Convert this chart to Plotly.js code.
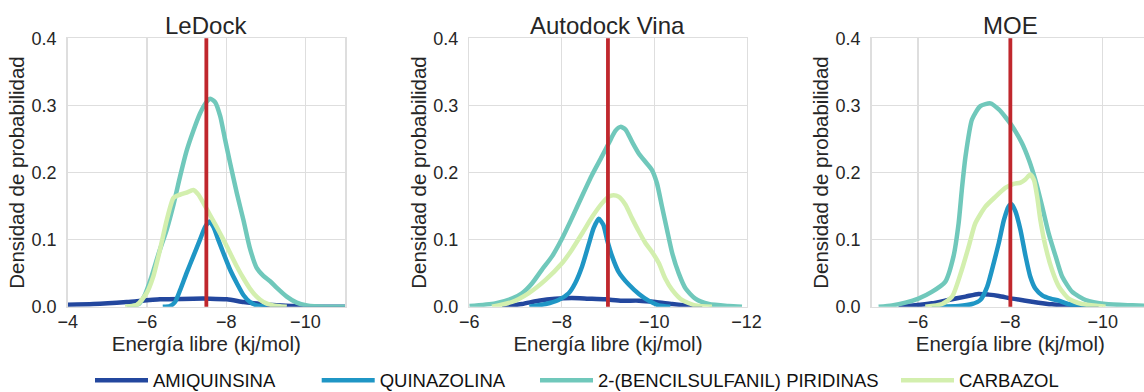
<!DOCTYPE html>
<html><head><meta charset="utf-8">
<script src="https://cdn.plot.ly/plotly-3.0.1.min.js"></script>
<style>html,body{margin:0;padding:0;overflow:hidden;background:#fff}#chart{width:1150px;height:392px}</style>
</head><body><div id="chart"></div>
<script>
// ---- labels ----
const panelTitles = ['LeDock', 'Autodock Vina', 'MOE'];
const seriesNames = ['AMIQUINSINA', 'QUINAZOLINA', '2-(BENCILSULFANIL) PIRIDINAS', 'CARBAZOL'];
const xAxisTitle = 'Energía libre (kj/mol)';
const yAxisTitle = 'Densidad de probabilidad';
const refEnergy = [-7.5, -9.0, -8.0];
const xRanges = [[-4, -11], [-6, -12], [-5, -11]];

// ---- LeDock ----
const ledock_amiq_x = [-4.0, -4.65, -5.49, -6.33, -7.17, -7.59, -8.02, -8.44, -8.86, -9.28, -9.7, -10.2, -11.0];
const ledock_amiq_y = [0.003, 0.004, 0.007, 0.011, 0.012, 0.012, 0.011, 0.007, 0.004, 0.002, 0.001, 0.0, 0.0];
const ledock_quin_x = [-6.4, -6.58, -6.71, -6.84, -7.0, -7.17, -7.34, -7.47, -7.58, -7.68, -7.8, -7.93, -8.1, -8.27, -8.44, -8.6, -8.77, -9.03];
const ledock_quin_y = [0, 0.001, 0.007, 0.025, 0.05, 0.075, 0.1, 0.119, 0.127, 0.119, 0.1, 0.08, 0.055, 0.035, 0.017, 0.007, 0.002, 0];
const ledock_benc_x = [-5.5, -5.8, -5.95, -6.1, -6.3, -6.5, -6.67, -6.84, -7.0, -7.17, -7.34, -7.5, -7.6, -7.72, -7.85, -7.97, -8.1, -8.27, -8.44, -8.6, -8.77, -8.94, -9.11, -9.28, -9.53, -9.78, -10.04, -10.5, -11.0];
const ledock_benc_y = [0, 0.004, 0.018, 0.042, 0.08, 0.115, 0.152, 0.195, 0.232, 0.262, 0.288, 0.305, 0.31, 0.305, 0.284, 0.25, 0.214, 0.169, 0.128, 0.087, 0.058, 0.046, 0.038, 0.028, 0.015, 0.006, 0.002, 0.0, 0.0];
const ledock_carb_x = [-5.45, -5.75, -5.99, -6.16, -6.33, -6.5, -6.67, -6.84, -7.0, -7.17, -7.3, -7.43, -7.59, -7.76, -7.93, -8.1, -8.27, -8.44, -8.6, -8.77, -8.94, -9.19, -9.53];
const ledock_carb_y = [0, 0.003, 0.02, 0.045, 0.085, 0.129, 0.162, 0.167, 0.170, 0.174, 0.167, 0.154, 0.137, 0.119, 0.1, 0.08, 0.06, 0.042, 0.027, 0.015, 0.007, 0.002, 0];

// ---- Autodock Vina ----
const vina_amiq_x = [-6.71, -7.14, -7.5, -7.86, -8.22, -8.58, -8.94, -9.3, -9.67, -10.03, -10.39, -10.75, -11.04];
const vina_amiq_y = [0, 0.004, 0.009, 0.012, 0.013, 0.012, 0.011, 0.009, 0.009, 0.007, 0.004, 0.0015, 0];
const vina_quin_x = [-7.3, -7.65, -7.93, -8.15, -8.29, -8.44, -8.58, -8.69, -8.8, -8.9, -8.98, -9.09, -9.23, -9.45, -9.67, -9.88, -10.1, -10.35];
const vina_quin_y = [0, 0.004, 0.01, 0.02, 0.035, 0.06, 0.092, 0.117, 0.131, 0.122, 0.1, 0.075, 0.052, 0.033, 0.019, 0.009, 0.002, 0];
const vina_benc_x = [-6.0, -6.56, -6.92, -7.14, -7.36, -7.57, -7.79, -8.01, -8.22, -8.44, -8.66, -8.87, -9.02, -9.16, -9.27, -9.38, -9.52, -9.67, -9.81, -9.95, -10.06, -10.17, -10.28, -10.39, -10.53, -10.68, -10.89, -11.18, -11.61, -11.9];
const vina_benc_y = [0.001, 0.005, 0.012, 0.02, 0.035, 0.055, 0.075, 0.102, 0.132, 0.165, 0.197, 0.224, 0.244, 0.262, 0.268, 0.264, 0.246, 0.228, 0.216, 0.204, 0.184, 0.149, 0.114, 0.08, 0.05, 0.027, 0.012, 0.004, 0.001, 0];
const vina_carb_x = [-6.49, -6.92, -7.28, -7.65, -8.01, -8.22, -8.44, -8.66, -8.87, -9.02, -9.12, -9.23, -9.38, -9.52, -9.67, -9.81, -9.95, -10.1, -10.24, -10.39, -10.6, -10.89, -11.25];
const vina_carb_y = [0, 0.007, 0.02, 0.04, 0.065, 0.085, 0.109, 0.134, 0.154, 0.164, 0.166, 0.164, 0.152, 0.132, 0.112, 0.095, 0.082, 0.065, 0.042, 0.025, 0.01, 0.002, 0];

// ---- MOE ----
const moe_amiq_x = [-5.58, -5.94, -6.3, -6.66, -7.03, -7.31, -7.53, -7.75, -8.04, -8.33, -8.61, -8.9, -9.19, -9.55, -9.91];
const moe_amiq_y = [0, 0.002, 0.005, 0.01, 0.015, 0.019, 0.018, 0.016, 0.012, 0.009, 0.006, 0.0035, 0.002, 0.0005, 0];
const moe_quin_x = [-6.3, -6.88, -7.17, -7.35, -7.5, -7.64, -7.75, -7.86, -7.96, -8.02, -8.11, -8.22, -8.33, -8.43, -8.54, -8.69, -8.87, -9.05, -9.26, -9.55, -9.77];
const moe_quin_y = [0, 0.001, 0.004, 0.01, 0.03, 0.065, 0.095, 0.129, 0.149, 0.153, 0.142, 0.114, 0.075, 0.045, 0.027, 0.017, 0.012, 0.009, 0.004, 0.001, 0];
const moe_benc_x = [-5.15, -5.44, -5.73, -6.01, -6.3, -6.59, -6.77, -6.88, -6.95, -7.03, -7.17, -7.35, -7.57, -7.75, -7.9, -8.04, -8.25, -8.4, -8.54, -8.69, -8.83, -8.98, -9.12, -9.34, -9.63, -10.06, -10.64, -11.0];
const moe_benc_y = [0, 0.002, 0.006, 0.012, 0.022, 0.037, 0.075, 0.124, 0.174, 0.224, 0.279, 0.299, 0.303, 0.294, 0.282, 0.269, 0.244, 0.219, 0.189, 0.149, 0.109, 0.075, 0.045, 0.022, 0.01, 0.004, 0.002, 0.001];
const moe_carb_x = [-6.16, -6.52, -6.74, -6.95, -7.1, -7.24, -7.46, -7.68, -7.89, -8.07, -8.22, -8.33, -8.43, -8.51, -8.58, -8.65, -8.76, -8.9, -9.05, -9.26, -9.55, -9.91, -10.06];
const moe_carb_y = [0, 0.004, 0.015, 0.055, 0.09, 0.124, 0.149, 0.164, 0.177, 0.183, 0.185, 0.19, 0.197, 0.189, 0.164, 0.129, 0.09, 0.055, 0.03, 0.012, 0.004, 0.001, 0];

// ---- build ----
const colors = ['#23479e', '#1f96c5', '#70c8bb', '#d3efae'];
const panels = [
  [[ledock_amiq_x, ledock_amiq_y], [ledock_quin_x, ledock_quin_y], [ledock_benc_x, ledock_benc_y], [ledock_carb_x, ledock_carb_y]],
  [[vina_amiq_x, vina_amiq_y], [vina_quin_x, vina_quin_y], [vina_benc_x, vina_benc_y], [vina_carb_x, vina_carb_y]],
  [[moe_amiq_x, moe_amiq_y], [moe_quin_x, moe_quin_y], [moe_benc_x, moe_benc_y], [moe_carb_x, moe_carb_y]]
];
const W = 1150, H = 392;
const plotLeft = [67.7, 469.3, 871.7], plotW = 277.3;
const plotTop = 38.3, plotBottom = 306.7;
const legendNames = ['legend', 'legend2', 'legend3', 'legend4'];
const legendLineStart = [95, 321.7, 540, 901];

const traces = [];
panels.forEach((series, p) => {
  const ax = p === 0 ? '' : String(p + 1);
  series.forEach((s, k) => {
    traces.push({
      type: 'scatter', mode: 'lines', x: s[0], y: s[1],
      xaxis: 'x' + ax, yaxis: 'y' + ax,
      name: seriesNames[k], legend: legendNames[k],
      showlegend: p === 0,
      line: {color: colors[k], width: 4.5, shape: 'spline', smoothing: 0.6},
      hoverinfo: 'skip'
    });
  });
});

const font = 'Liberation Sans, Arial, sans-serif';
const layout = {
  width: W, height: H,
  margin: {l: 0, r: 0, t: 0, b: 0, pad: 0, autoexpand: false},
  paper_bgcolor: '#ffffff', plot_bgcolor: '#ffffff',
  font: {family: font, color: '#262626'},
  annotations: [], shapes: []
};
const yDom = [(H - plotBottom) / H, (H - plotTop) / H];
panels.forEach((_, p) => {
  const ax = p === 0 ? '' : String(p + 1);
  layout['xaxis' + ax] = {
    domain: [plotLeft[p] / W, (plotLeft[p] + plotW) / W],
    anchor: 'y' + ax,
    range: xRanges[p], dtick: 2, tick0: 0,
    showgrid: true, gridcolor: '#dedede', gridwidth: 1.2,
    showline: true, linecolor: '#dedede', linewidth: 1.5, mirror: true,
    zeroline: false,
    ticks: '', ticklabelstandoff: -2,
    tickfont: {size: 18, color: '#262626', family: font},
    title: {text: xAxisTitle, font: {size: 20.5, color: '#262626', family: font}, standoff: 0},
    automargin: false, fixedrange: true
  };
  layout['yaxis' + ax] = {
    domain: yDom, anchor: 'x' + ax,
    range: [0, 0.4], dtick: 0.1, tickformat: '.1f',
    showgrid: true, gridcolor: '#dedede', gridwidth: 1.2,
    showline: true, linecolor: '#dedede', linewidth: 1.5, mirror: true,
    zeroline: false,
    ticks: 'outside', ticklen: 6, tickcolor: 'rgba(0,0,0,0)',
    tickfont: {size: 18, color: '#262626', family: font},
    title: {text: yAxisTitle, font: {size: 20.5, color: '#262626', family: font}, standoff: 1},
    automargin: false, fixedrange: true
  };
  layout.annotations.push({
    text: panelTitles[p], showarrow: false,
    xref: 'paper', yref: 'paper',
    x: (plotLeft[p] + plotW / 2) / W, y: (H - 25) / H,
    xanchor: 'center', yanchor: 'middle',
    font: {size: 24, color: '#262626', family: font}
  });
  layout.shapes.push({
    type: 'line', xref: 'x' + ax, yref: 'y' + ax + ' domain',
    x0: refEnergy[p], x1: refEnergy[p], y0: 0, y1: 1,
    line: {color: '#c0272d', width: 3.8}, layer: 'above'
  });
});
legendNames.forEach((ln, k) => {
  layout[ln] = {
    orientation: 'h', xref: 'paper', yref: 'paper',
    x: (legendLineStart[k] - 5) / W, xanchor: 'left',
    y: (H - 380.7) / H, yanchor: 'middle',
    bgcolor: 'rgba(0,0,0,0)', borderwidth: 0,
    itemwidth: 53,
    font: {size: 18.5, color: '#111111', family: font}
  };
});

Plotly.newPlot('chart', traces, layout, {displayModeBar: false, staticPlot: true});
</script>
</body></html>
